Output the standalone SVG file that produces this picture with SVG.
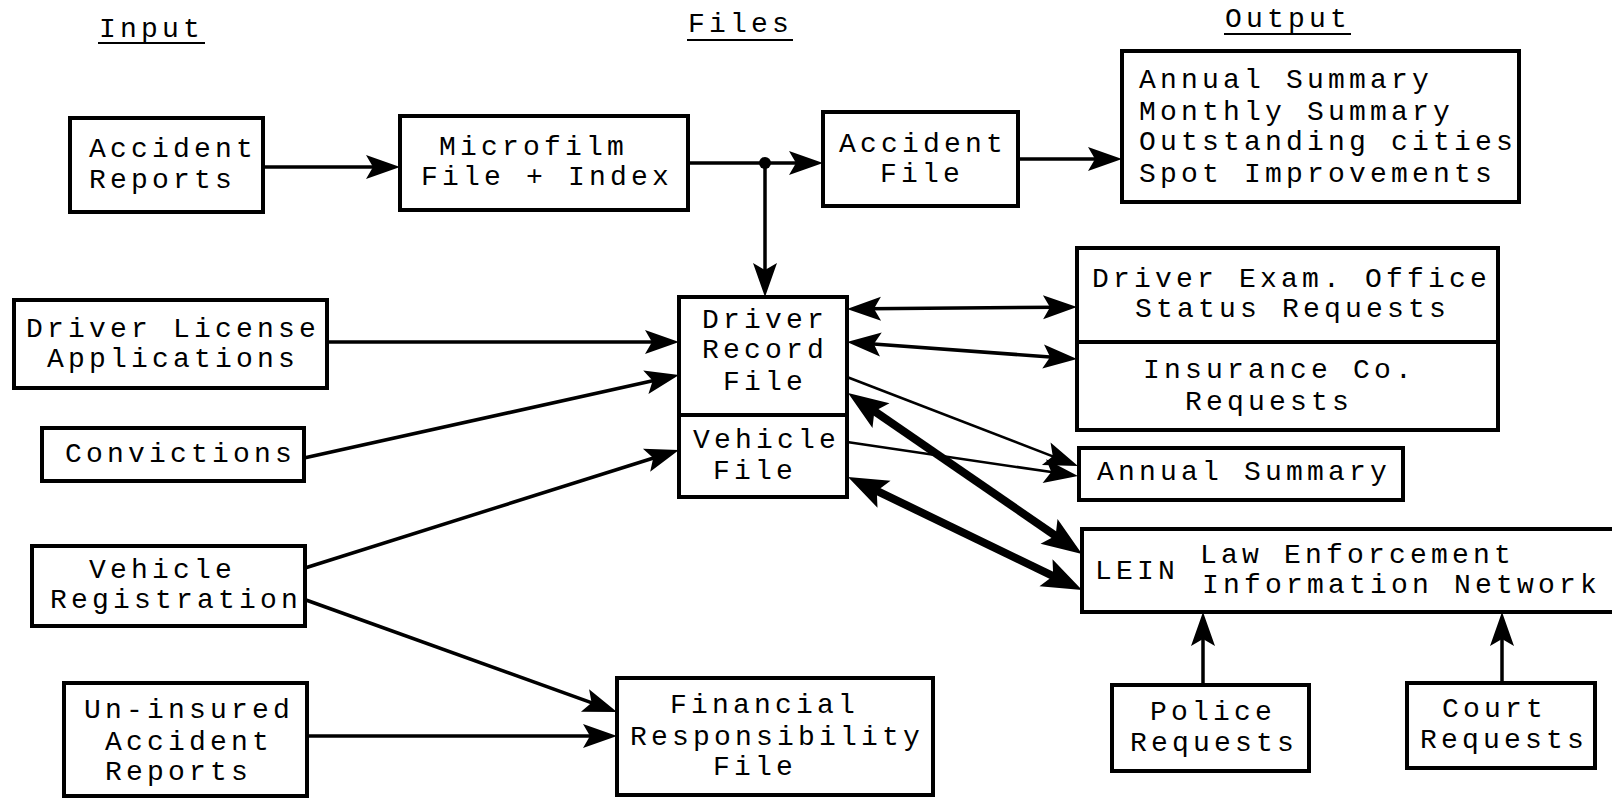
<svg xmlns="http://www.w3.org/2000/svg" width="1612" height="800" viewBox="0 0 1612 800">
  <style>
    .box { fill: #fff; stroke: #000; stroke-width: 4; }
    .div { stroke: #000; stroke-width: 4; }
    .t { font-family: "Liberation Mono", "Courier New", monospace; font-size: 28px; letter-spacing: 4.2px; fill: #000; }
    .ul { stroke: #000; stroke-width: 2; }
    .c { fill: none; stroke: #000; stroke-width: 3.5; }
    .thin { fill: none; stroke: #000; stroke-width: 2.5; }
    .thick { fill: none; stroke: #000; stroke-width: 8; }
  </style>
  <defs>
    <!-- line ends 20px short of the tip; the head covers the rest -->
    <marker id="ah" viewBox="-15 -13 36 26" refX="0" refY="0" markerWidth="36" markerHeight="26" markerUnits="userSpaceOnUse" orient="auto-start-reverse">
      <path d="M20,0 L-14,-12 L-7,0 L-14,12 Z" fill="#000"/>
    </marker>
    <marker id="ahb" viewBox="-17 -16 42 32" refX="0" refY="0" markerWidth="42" markerHeight="32" markerUnits="userSpaceOnUse" orient="auto-start-reverse">
      <path d="M24,0 L-16,-15 L-8,0 L-16,15 Z" fill="#000"/>
    </marker>
  </defs>

  <rect width="1612" height="800" fill="#fff"/>

  <!-- column headings -->
  <g id="headings">
    <text class="t" x="99" y="37">Input</text>
    <line class="ul" x1="98" y1="43" x2="205" y2="43"/>
    <text class="t" x="688" y="32">Files</text>
    <line class="ul" x1="687" y1="40" x2="793" y2="40"/>
    <text class="t" x="1225" y="27">Output</text>
    <line class="ul" x1="1224" y1="34" x2="1351" y2="34"/>
  </g>

  <!-- connectors -->
  <g id="connectors">
    <line class="c" x1="263" y1="167" x2="380" y2="167" marker-end="url(#ah)"/>
    <line class="c" x1="688" y1="163" x2="803" y2="163" marker-end="url(#ah)"/>
    <circle cx="765" cy="163" r="6" fill="#000"/>
    <line class="c" x1="765" y1="163" x2="765" y2="277" marker-end="url(#ah)"/>
    <line class="c" x1="1018" y1="159" x2="1102" y2="159" marker-end="url(#ah)"/>

    <line class="c" x1="327" y1="342" x2="659" y2="342" marker-end="url(#ah)"/>
    <line class="c" x1="304" y1="458" x2="659.5" y2="379.3" marker-end="url(#ah)"/>
    <line class="c" x1="305" y1="568" x2="659.9" y2="456" marker-end="url(#ah)"/>
    <line class="c" x1="306" y1="600" x2="598.2" y2="705.2" marker-end="url(#ah)"/>
    <line class="c" x1="307" y1="736" x2="597" y2="736" marker-end="url(#ah)"/>

    <line class="c" x1="867" y1="308.8" x2="1057" y2="307.2" marker-start="url(#ah)" marker-end="url(#ah)"/>
    <line class="c" x1="866.9" y1="343.5" x2="1057.1" y2="357.5" marker-start="url(#ah)" marker-end="url(#ah)"/>

    <line class="thin" x1="847" y1="377" x2="1059.3" y2="458.8" marker-end="url(#ah)"/>
    <line class="thin" x1="847" y1="442" x2="1058.2" y2="473.1" marker-end="url(#ah)"/>

    <line class="thick" x1="867.8" y1="406.6" x2="1062.2" y2="540.4" marker-start="url(#ahb)" marker-end="url(#ahb)"/>
    <line class="thick" x1="869.6" y1="487.4" x2="1060.4" y2="579.6" marker-start="url(#ahb)" marker-end="url(#ahb)"/>

    <line class="c" x1="1203" y1="685" x2="1203" y2="632" marker-end="url(#ah)"/>
    <line class="c" x1="1502" y1="683" x2="1502" y2="632" marker-end="url(#ah)"/>
  </g>

  <!-- input nodes -->
  <g id="accident-reports">
    <rect class="box" x="70" y="118" width="193" height="94"/>
    <text class="t" x="89" y="157">Accident</text>
    <text class="t" x="89" y="188">Reports</text>
  </g>
  <g id="driver-license-applications">
    <rect class="box" x="14" y="300" width="313" height="88"/>
    <text class="t" x="26" y="337">Driver License</text>
    <text class="t" x="47" y="367">Applications</text>
  </g>
  <g id="convictions">
    <rect class="box" x="42" y="428" width="262" height="53"/>
    <text class="t" x="65" y="462">Convictions</text>
  </g>
  <g id="vehicle-registration">
    <rect class="box" x="32" y="546" width="273" height="80"/>
    <text class="t" x="89" y="578">Vehicle</text>
    <text class="t" x="50" y="608">Registration</text>
  </g>
  <g id="uninsured-accident-reports">
    <rect class="box" x="64" y="683" width="243" height="113"/>
    <text class="t" x="84" y="718">Un-insured</text>
    <text class="t" x="105" y="750">Accident</text>
    <text class="t" x="105" y="780">Reports</text>
  </g>

  <!-- file nodes -->
  <g id="microfilm-file">
    <rect class="box" x="400" y="116" width="288" height="94"/>
    <text class="t" x="439" y="155">Microfilm</text>
    <text class="t" x="421" y="185">File + Index</text>
  </g>
  <g id="accident-file">
    <rect class="box" x="823" y="112" width="195" height="94"/>
    <text class="t" x="839" y="152">Accident</text>
    <text class="t" x="880" y="182">File</text>
  </g>
  <g id="driver-vehicle-file">
    <rect class="box" x="679" y="297" width="168" height="200"/>
    <line class="div" x1="679" y1="415" x2="847" y2="415"/>
    <text class="t" x="702" y="328">Driver</text>
    <text class="t" x="702" y="358">Record</text>
    <text class="t" x="723" y="390">File</text>
    <text class="t" x="693" y="448">Vehicle</text>
    <text class="t" x="713" y="479">File</text>
  </g>
  <g id="financial-responsibility-file">
    <rect class="box" x="617" y="678" width="316" height="117"/>
    <text class="t" x="670" y="713">Financial</text>
    <text class="t" x="630" y="745">Responsibility</text>
    <text class="t" x="713" y="775">File</text>
  </g>

  <!-- output nodes -->
  <g id="accident-outputs">
    <rect class="box" x="1122" y="51" width="397" height="151"/>
    <text class="t" x="1139" y="88">Annual Summary</text>
    <text class="t" x="1139" y="120">Monthly Summary</text>
    <text class="t" x="1139" y="150">Outstanding cities</text>
    <text class="t" x="1139" y="182">Spot Improvements</text>
  </g>
  <g id="status-insurance-requests">
    <rect class="box" x="1077" y="248" width="421" height="182"/>
    <line class="div" x1="1077" y1="342" x2="1498" y2="342"/>
    <text class="t" x="1092" y="287">Driver Exam. Office</text>
    <text class="t" x="1135" y="317">Status Requests</text>
    <text class="t" x="1143" y="378">Insurance Co.</text>
    <text class="t" x="1185" y="410">Requests</text>
  </g>
  <g id="annual-summary">
    <rect class="box" x="1079" y="448" width="324" height="52"/>
    <text class="t" x="1097" y="480">Annual Summary</text>
  </g>
  <g id="lein">
    <rect class="box" x="1082" y="529" width="560" height="83"/>
    <text class="t" x="1095" y="579">LEIN</text>
    <text class="t" x="1200" y="563">Law Enforcement</text>
    <text class="t" x="1202" y="593">Information Network</text>
  </g>
  <g id="police-requests">
    <rect class="box" x="1112" y="685" width="197" height="86"/>
    <text class="t" x="1150" y="720">Police</text>
    <text class="t" x="1130" y="751">Requests</text>
  </g>
  <g id="court-requests">
    <rect class="box" x="1407" y="683" width="188" height="85"/>
    <text class="t" x="1442" y="717">Court</text>
    <text class="t" x="1420" y="748">Requests</text>
  </g>
</svg>
